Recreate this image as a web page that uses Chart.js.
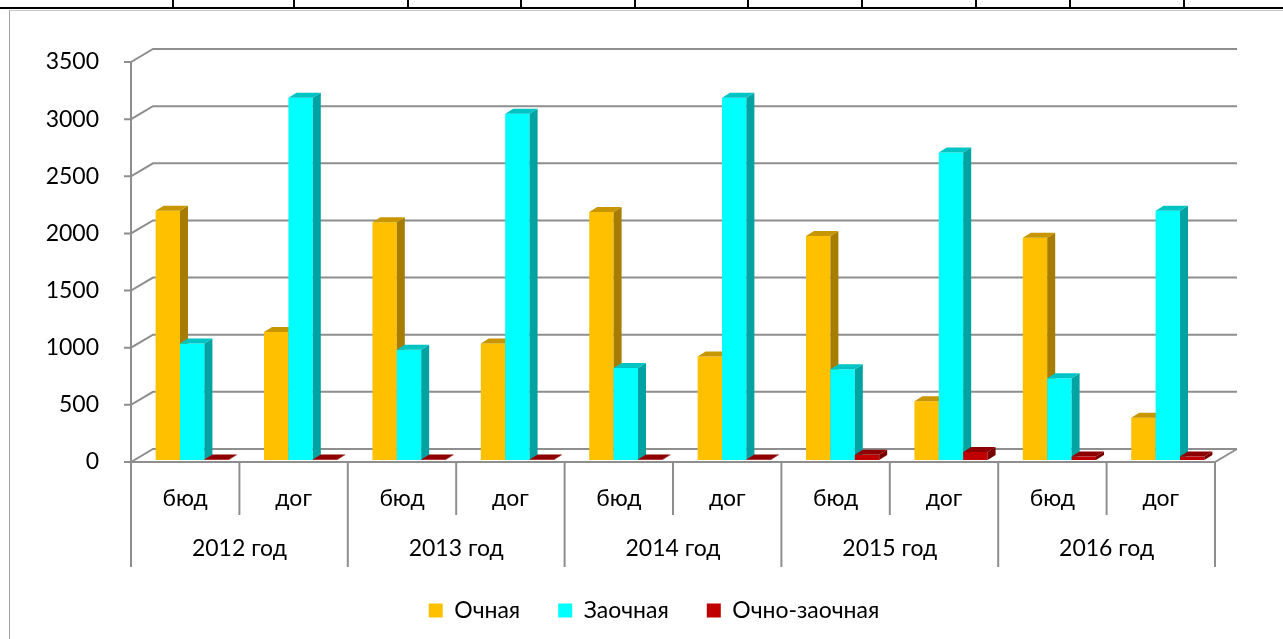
<!DOCTYPE html>
<html>
<head>
<meta charset="utf-8">
<script src="https://cdn.jsdelivr.net/npm/chart.js@4"></script>
<style>
  html, body { margin: 0; padding: 0; background: #fff; }
  #wrap { position: relative; width: 1283px; height: 639px; overflow: hidden; }
  #cells { position: absolute; left: 0; top: 0; width: 1283px; height: 7px; border-bottom: 2px solid #000; }
  #cells span { position: absolute; top: 0; height: 7px; border-left: 2px solid #000; }
  #frame { position: absolute; left: 9px; top: 10px; width: 1274px; height: 629px; border-left: 1px solid #a0a0a0; border-top: 1px solid #c8c8c8; }
  canvas { position: absolute; left: 0; top: 0; }
</style>
</head>
<body>
<div id="wrap">
  <div id="cells"></div>
  <div id="frame"></div>
  <canvas id="chart" width="1283" height="639"></canvas>
</div>
<script>
const subLabels = ["бюд", "дог", "бюд", "дог", "бюд", "дог", "бюд", "дог", "бюд", "дог"];
const yearLabels = ["2012 год", "2013 год", "2014 год", "2015 год", "2016 год"];
const seriesNames = ["Очная", "Заочная", "Очно-заочная"];
const ochnaya = [2180, 1120, 2080, 1020, 2170, 905, 1960, 515, 1945, 370];
const zaochnaya = [1020, 3170, 965, 3030, 805, 3170, 795, 2690, 715, 2180];
const ochnoZaochnaya = [5, 5, 5, 5, 5, 5, 45, 70, 30, 30];
const yTicks = [0, 500, 1000, 1500, 2000, 2500, 3000, 3500];

const FRONT = ["#FFC000", "#00FFFF", "#C00000"];
const TOP = ["#C89600", "#00C4C4", "#8E0000"];
const SIDE = ["#A67D00", "#00A2A2", "#780000"];
const GRID = "#8e8e8e";
const FONT = "Lato, 'Open Sans', sans-serif";
const FSIZE = 23;

// spreadsheet cell lines above the chart
[172, 293, 407, 520, 634, 747, 861, 975, 1069, 1183].forEach((x) => {
  const s = document.createElement("span");
  s.style.left = x + "px";
  document.getElementById("cells").appendChild(s);
});

const DX = 22, DY = 13;       // wall depth
const BDX = 8, BDY = 5;       // bar depth
const SX = 7, SY = -2;        // bar plane shift

function drawFaces(ctx, meta, i) {
  for (const el of meta.data) {
    const { x, y, base, width } = el.getProps(["x", "y", "base", "width"], true);
    const l = x - width / 2, r = x + width / 2;
    ctx.fillStyle = SIDE[i];
    ctx.beginPath();
    ctx.moveTo(r, y);
    ctx.lineTo(r + BDX, y - BDY);
    ctx.lineTo(r + BDX, base - BDY);
    ctx.lineTo(r, base);
    ctx.closePath();
    ctx.fill();
    ctx.fillStyle = TOP[i];
    ctx.beginPath();
    ctx.moveTo(l, y);
    ctx.lineTo(l + BDX, y - BDY);
    ctx.lineTo(r + BDX, y - BDY);
    ctx.lineTo(r, y);
    ctx.closePath();
    ctx.fill();
  }
}

const depth3d = {
  id: "depth3d",
  beforeDatasetsDraw(chart) {
    const { ctx, chartArea: a, scales: { y } } = chart;
    ctx.save();
    ctx.strokeStyle = GRID;
    ctx.lineWidth = 2;
    for (const v of yTicks) {
      const py = y.getPixelForValue(v);
      ctx.beginPath();
      ctx.moveTo(a.left - 7, py);
      ctx.lineTo(a.left, py);
      ctx.lineTo(a.left + DX, py - DY);
      ctx.lineTo(a.right + DX, py - DY);
      ctx.stroke();
    }
    const p0 = y.getPixelForValue(0);
    ctx.beginPath();
    ctx.moveTo(a.left, p0);
    ctx.lineTo(a.right, p0);
    ctx.lineTo(a.right + DX, p0 - DY);
    ctx.stroke();
    ctx.beginPath();
    ctx.moveTo(a.left, y.getPixelForValue(3500));
    ctx.lineTo(a.left, p0 + 1);
    ctx.stroke();
    ctx.restore();
  },
  // bars are drawn below, left series first, so the depth faces overlap correctly
  beforeDatasetDraw() {
    return false;
  },
  afterDatasetsDraw(chart) {
    const { ctx, chartArea: a, scales: { x, y } } = chart;
    const metas = chart.getSortedVisibleDatasetMetas().slice().sort((m, n) => m.index - n.index);
    ctx.save();
    ctx.translate(SX, SY);
    for (const meta of metas) {
      meta.controller.draw();
      drawFaces(ctx, meta, meta.index);
    }
    ctx.restore();

    const p0 = y.getPixelForValue(0);
    const w = (a.right - a.left) / subLabels.length;
    ctx.save();
    ctx.strokeStyle = GRID;
    ctx.lineWidth = 2;
    for (let k = 0; k <= subLabels.length; k++) {
      const bx = a.left + k * w;
      ctx.beginPath();
      ctx.moveTo(bx, p0);
      ctx.lineTo(bx, p0 + (k % 2 === 0 ? 105 : 53));
      ctx.stroke();
    }
    ctx.fillStyle = "#000";
    ctx.font = FSIZE + "px " + FONT;
    ctx.textAlign = "center";
    ctx.textBaseline = "middle";
    subLabels.forEach((lab, i) => ctx.fillText(lab, x.getPixelForValue(i), p0 + 37));
    yearLabels.forEach((lab, i) => {
      const cx = (x.getPixelForValue(2 * i) + x.getPixelForValue(2 * i + 1)) / 2;
      ctx.fillText(lab, cx, p0 + 87);
    });
    ctx.restore();
  },
};

new Chart(document.getElementById("chart"), {
  type: "bar",
  data: {
    labels: subLabels,
    datasets: [
      { label: seriesNames[0], data: ochnaya, backgroundColor: FRONT[0] },
      { label: seriesNames[1], data: zaochnaya, backgroundColor: FRONT[1] },
      { label: seriesNames[2], data: ochnoZaochnaya, backgroundColor: FRONT[2] },
    ],
  },
  options: {
    responsive: false,
    animation: false,
    events: [],
    layout: { padding: { left: 25, right: 0, top: 62, bottom: 7 } },
    datasets: { bar: { categoryPercentage: 0.675, barPercentage: 1, borderWidth: 0, clip: false } },
    plugins: {
      legend: {
        position: "bottom",
        labels: {
          color: "#000",
          font: { family: FONT, size: FSIZE },
          boxWidth: 14,
          boxHeight: 14,
          padding: 38,
        },
      },
      tooltip: { enabled: false },
    },
    scales: {
      x: {
        ticks: { display: false },
        grid: { display: false },
        border: { display: false },
        afterFit: (s) => { s.height = 99; },
      },
      y: {
        min: 0,
        max: 3500,
        ticks: {
          stepSize: 500,
          padding: 24,
          color: "#000",
          font: { family: FONT, size: FSIZE },
          callback: (v) => String(v),
        },
        grid: { display: false },
        border: { display: false },
        afterFit: (s) => { s.width = 106; },
      },
      yRight: {
        type: "linear",
        position: "right",
        ticks: { display: false },
        grid: { display: false },
        border: { display: false },
        afterFit: (s) => { s.width = 68; },
      },
    },
  },
  plugins: [depth3d],
});
</script>
</body>
</html>
